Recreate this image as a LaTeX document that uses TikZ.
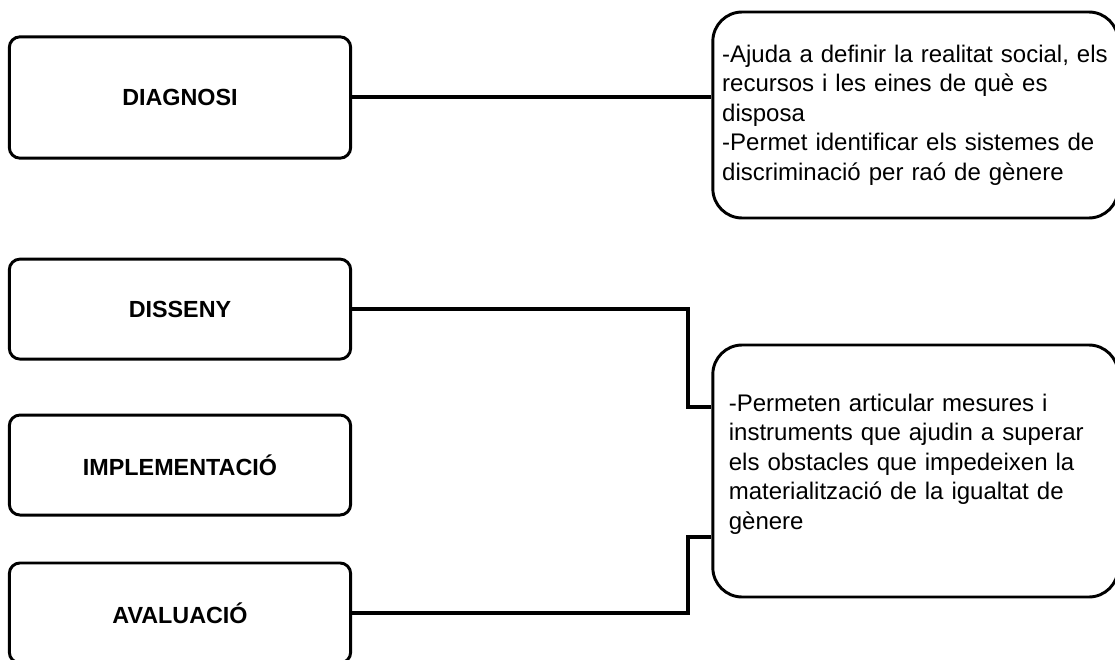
\documentclass[tikz,border=0pt]{standalone}
\usepackage{fontspec}
\setmainfont{Liberation Sans}
\usetikzlibrary{positioning}
\tikzset{
  stage/.style = {draw, line width=2.2pt, rounded corners=8pt, minimum width=256pt,
                  minimum height=75pt, align=center, font=\fontsize{17.5}{21}\selectfont\bfseries},
  note/.style  = {draw, line width=2.2pt, rounded corners=22pt, minimum width=304pt,
                  text width=290pt, align=left, inner xsep=0.5pt,
                  font=\fontsize{18}{22.2}\selectfont},
  link/.style  = {line width=3pt}
}

\begin{document}
\begin{tikzpicture}[x=0.75pt, y=-0.75pt]
  \useasboundingbox (0,0) rectangle (1115,660);
  \node[stage, minimum height=91pt] (diag) at (180,97.5) {DIAGNOSI};
  \node[stage, below=73.5pt of diag] (disseny) {DISSENY};
  \node[stage, below=39.75pt of disseny] (impl) {IMPLEMENTACIÓ};
  \node[stage, below=33.75pt of impl] (aval) {AVALUACIÓ};
  \node[note, minimum height=154.5pt] (info1) at (915.5,115)
    {-Ajuda a definir la realitat social, els\\
     recursos i les eines de què es\\
     disposa\\
     -Permet identificar els sistemes de\\
     discriminació per raó de gènere};
  \node[note, minimum height=189pt, text width=280pt, inner xsep=11pt] (info2) at (915.5,471)
    {-Permeten articular mesures i\\
     instruments que ajudin a superar\\
     els obstacles que impedeixen la\\
     materialització de la igualtat de\\
     gènere\\[-8pt]\mbox{}};
  \coordinate (j1) at (688,407);
  \coordinate (j2) at (688,537);
  \draw[link] (diag.east) -- (diag.east -| info1.west);
  \draw[link] (disseny.east) -| (j1) -- (j1 -| info2.west);
  \draw[link] (aval.east) -| (j2) -- (j2 -| info2.west);
\end{tikzpicture}
\end{document}
